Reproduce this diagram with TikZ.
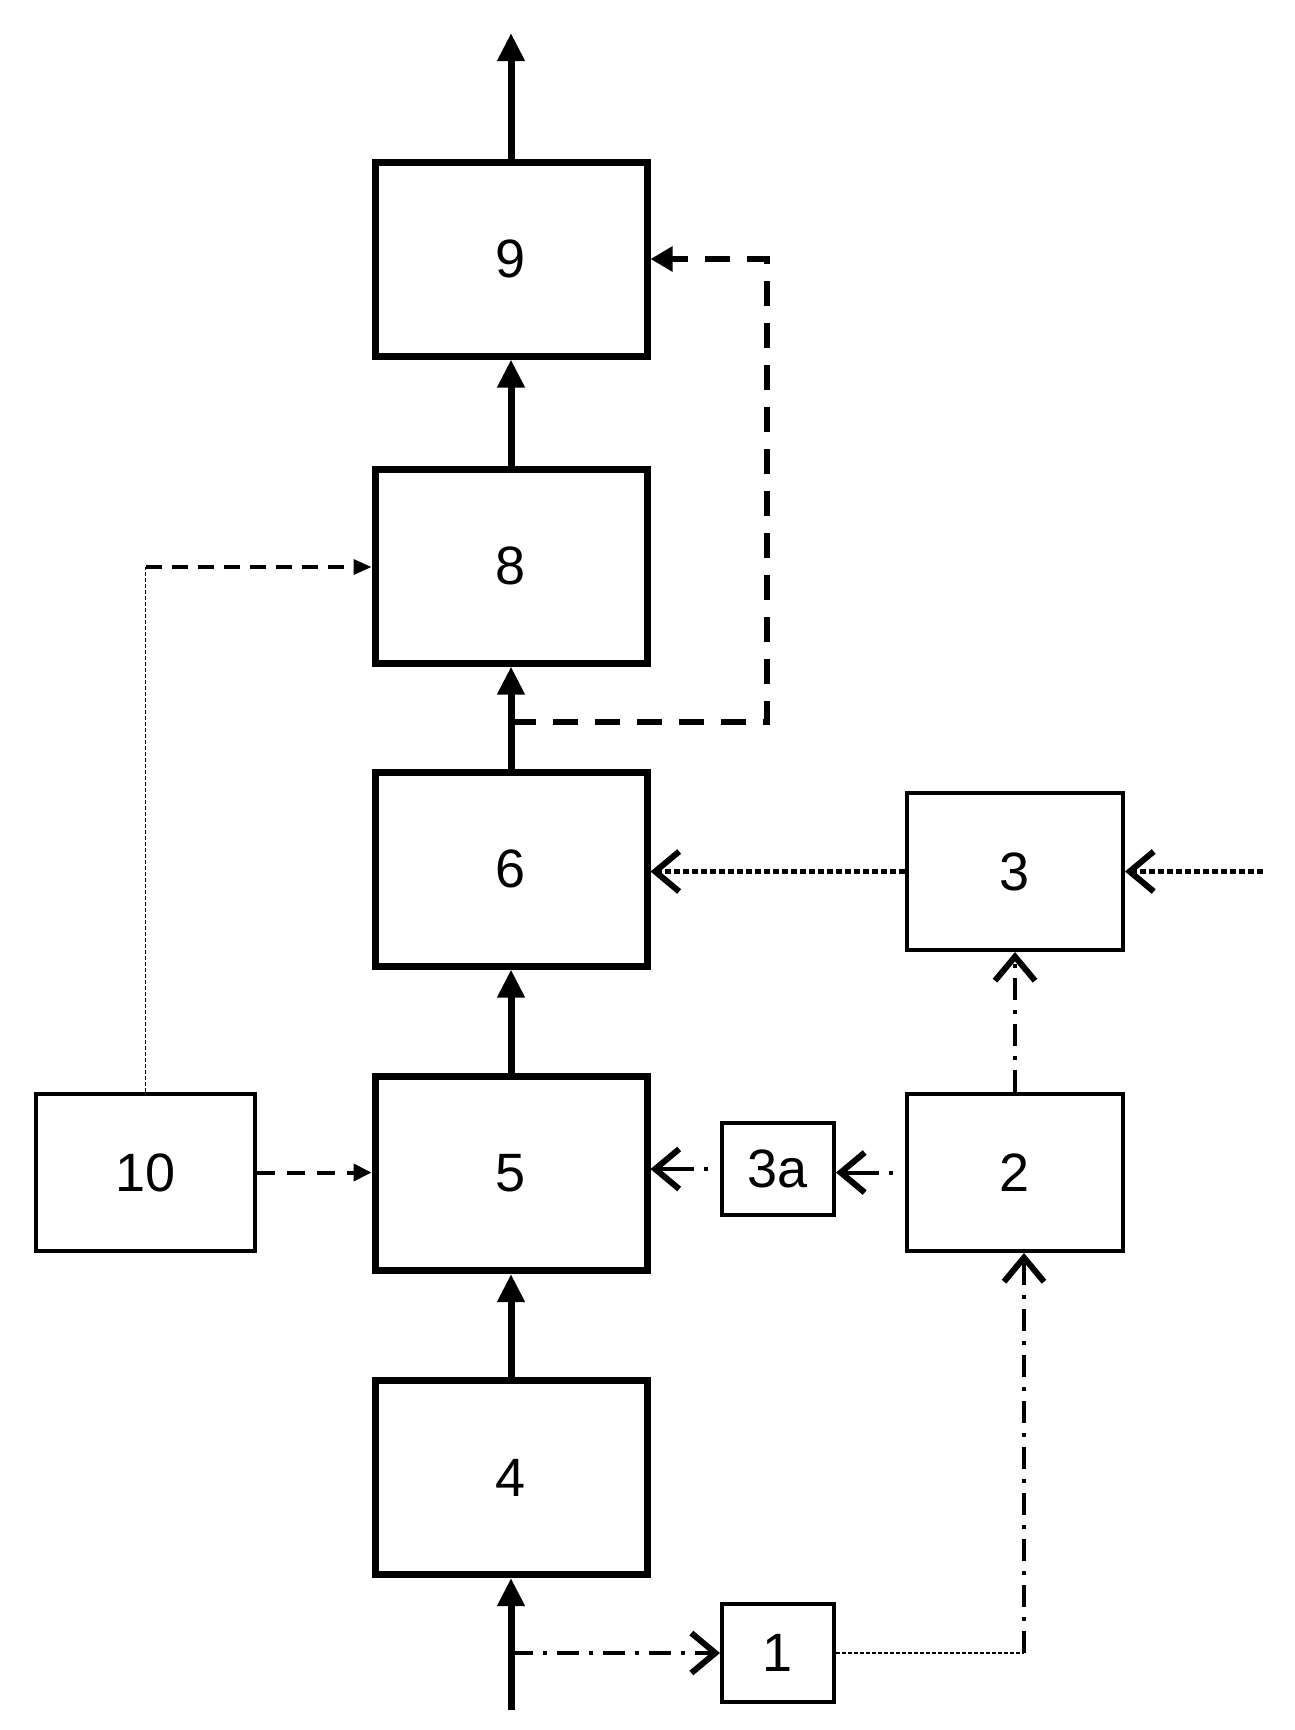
\documentclass[tikz,border=0pt]{standalone}
\usepackage{fontspec}
\setmainfont{Liberation Sans}
\usetikzlibrary{arrows.meta}
\begin{document}
\begin{tikzpicture}[x=1pt,y=-1pt,
  bigbox/.style={draw,line width=7pt,minimum width=272pt,minimum height=194pt,inner sep=0pt,font=\fontsize{54}{60}\selectfont},
  smallbox/.style={draw,line width=4pt,inner sep=0pt,font=\fontsize{54}{60}\selectfont},
  mainflow/.style={line width=7pt,-{Triangle[length=28pt,width=26pt]}},
  fbdash/.style={line width=6pt,dash pattern=on 25pt off 17pt},
  fbtip/.style={-{Triangle[length=22pt,width=24pt]}},
  ctrldash/.style={line width=4pt,dash pattern=on 18pt off 12pt,-{Triangle[length=18pt,width=17pt]}},
  thindot/.style={line width=1.5pt,dash pattern=on 4pt off 2pt},
  openhead/.style={-{Straight Barb[length=24pt,width=40pt,line width=6pt]}},
  sqdot/.style={line width=5pt,dash pattern=on 6pt off 3pt,openhead},
  sparse/.style={line width=4pt,dash pattern=on 0pt off 12pt on 4pt off 10pt on 200pt,openhead},
  dashdot/.style={line width=4pt,dash pattern=on 22pt off 10pt on 4pt off 10pt}
]
\useasboundingbox (0,0) rectangle (1295,1730);
\fill[white] (0,0) rectangle (1295,1730);

% main column
\node[bigbox] (n9) at (511,259) {9};
\node[bigbox] (n8) at (511,566) {8};
\node[bigbox] (n6) at (511,869) {6};
\node[bigbox] (n5) at (511,1173.5) {5};
\node[bigbox] (n4) at (511,1477.5) {4};

% small boxes
\node[smallbox,minimum width=219pt,minimum height=157pt] (n10) at (145.5,1172.5) {10};
\node[smallbox,minimum width=216pt,minimum height=157pt] (n2) at (1015,1172.5) {2};
\node[smallbox,minimum width=216pt,minimum height=157pt] (n3) at (1015,871.5) {3};
\node[smallbox,minimum width=112pt,minimum height=92pt] (n3a) at (778,1169) {3a};
\node[smallbox,minimum width=112pt,minimum height=98pt] (n1) at (778,1653) {1};

% free ends
\coordinate (top) at (511,33);
\coordinate (bot) at (511,1710);
\coordinate (br1) at (511,1653);
\coordinate (fb) at (511,722);
\coordinate (fbc) at (767,722);
\coordinate (rin) at (1263,871.5);
\coordinate (c12) at (1024,1653);
\coordinate (c108) at (145.5,567);

% main flow
\draw[mainflow] (n9.north) -- (top);
\draw[mainflow] (n8.north) -- (n9.south);
\draw[mainflow] (n6.north) -- (n8.south);
\draw[mainflow] (n5.north) -- (n6.south);
\draw[mainflow] (n4.north) -- (n5.south);
\draw[mainflow] (bot) -- (n4.south);

% feedback 6/8 -> 9
\draw[fbdash,fbtip] (fb) -- (fbc) |- (n9.east);

% 3 -> 6 and input into 3
\draw[sqdot] (n3.west) -- (n3.west -| n6.east);
\draw[sqdot] (rin) -- (n3.east);

% 2 -> 3
\draw[dashdot,openhead] (n2.north) -- (n3.south);

% 2 -> 3a -> 5
\draw[sparse] (n2.west) -- (n2.west -| n3a.east);
\draw[sparse] (n3a.west) -- (n3a.west -| n5.east);

% branch -> 1
\draw[dashdot,openhead] (br1) -- (br1 -| n1.west);

% 1 -> 2
\draw[thindot] (n1.east) -- (c12);
\draw[dashdot,openhead] (c12) -- (c12 |- n2.south);

% 10 -> 5
\draw[ctrldash] (n10.east) -- (n10.east -| n5.west);

% 10 -> 8
\draw[thindot] (n10.north) -- (c108);
\draw[line width=3.5pt,dash pattern=on 16pt off 10pt,-{Triangle[length=18pt,width=15pt]}] (c108) -- (c108 -| n8.west);
\end{tikzpicture}
\end{document}
